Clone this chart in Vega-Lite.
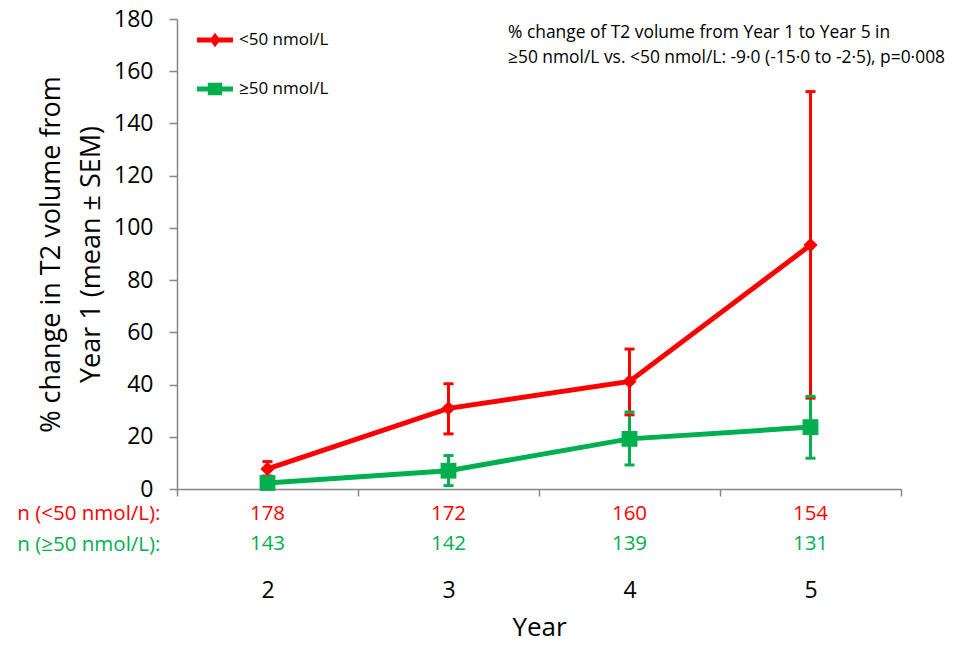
{
  "$schema": "https://vega.github.io/schema/vega-lite/v6.json",
  "background": "white",
  "padding": {"left": 16, "top": 8, "right": 5, "bottom": 5},
  "config": {"font": "Open Sans", "view": {"stroke": null}, "axis": {"grid": false}},
  "resolve": {"scale": {"color": "independent", "shape": "independent"}, "legend": {"color": "independent", "shape": "independent"}},
  "spacing": 2,
  "vconcat": [
    {
      "width": 724,
      "height": 470,
      "data": {"values": [
        {"Year": "2", "group": "<50 nmol/L", "mean": 7.7, "lo": 5.0, "hi": 10.5},
        {"Year": "3", "group": "<50 nmol/L", "mean": 30.9, "lo": 21.1, "hi": 40.3},
        {"Year": "4", "group": "<50 nmol/L", "mean": 41.2, "lo": 28.4, "hi": 53.6},
        {"Year": "5", "group": "<50 nmol/L", "mean": 93.4, "lo": 34.8, "hi": 152.2},
        {"Year": "2", "group": "≥50 nmol/L", "mean": 2.3, "lo": 1.0, "hi": 3.6},
        {"Year": "3", "group": "≥50 nmol/L", "mean": 7.0, "lo": 1.3, "hi": 12.8},
        {"Year": "4", "group": "≥50 nmol/L", "mean": 19.2, "lo": 9.2, "hi": 29.5},
        {"Year": "5", "group": "≥50 nmol/L", "mean": 23.7, "lo": 11.8, "hi": 35.5}
      ]},
      "title": {
        "text": ["% change of T2 volume from Year 1 to Year 5 in", "≥50 nmol/L vs. <50 nmol/L: -9·0 (-15·0 to -2·5), p=0·008"],
        "anchor": "start", "frame": "group", "orient": "top", "align": "left", "baseline": "top",
        "offset": -58, "dx": 331, "fontSize": 17.4, "fontWeight": "normal", "lineHeight": 25,
        "color": "black", "font": "Open Sans"
      },
      "encoding": {
        "x": {
          "field": "Year", "type": "ordinal",
          "scale": {"type": "band", "paddingInner": 0, "paddingOuter": 0},
          "axis": {"labels": false, "title": null, "tickBand": "extent", "domainColor": "#868686", "tickColor": "#868686", "domainWidth": 1.5, "tickWidth": 1.5, "tickSize": 7}
        }
      },
      "layer": [
        {
          "mark": {"type": "point", "filled": true, "opacity": 0},
          "encoding": {
            "y": {
              "field": "mean", "type": "quantitative",
              "scale": {"domain": [0, 180], "nice": false},
              "axis": {
                "values": [0, 20, 40, 60, 80, 100, 120, 140, 160, 180],
                "domainColor": "#868686", "tickColor": "#868686", "domainWidth": 1.5, "tickWidth": 1.5, "tickSize": 8,
                "labelFontSize": 23, "labelColor": "black", "labelPadding": 16,
                "title": ["% change in T2 volume from", "Year 1 (mean ± SEM)"],
                "titleFontSize": 27, "titleFontWeight": "normal", "titleColor": "black", "titleLineHeight": 40, "titlePadding": 8
              }
            },
            "color": {
              "field": "group", "type": "nominal",
              "scale": {"domain": ["<50 nmol/L", "≥50 nmol/L"], "range": ["#FF0000", "#00B050"]},
              "legend": {
                "title": null, "orient": "none", "legendX": 20, "legendY": 3,
                "symbolSize": 1296, "symbolStrokeWidth": 0, "symbolOpacity": 1,
                "labelFontSize": 17, "labelColor": "black", "labelFont": "Open Sans", "labelOffset": 6,
                "rowPadding": 23, "padding": 0
              }
            },
            "shape": {
              "field": "group", "type": "nominal",
              "scale": {
                "domain": ["<50 nmol/L", "≥50 nmol/L"],
                "range": [
                  "M-1,-0.14L1,-0.14L1,0.14L-1,0.14Z M0,-0.4L0.3,0L0,0.4L-0.3,0Z",
                  "M-1,-0.14L1,-0.14L1,0.14L-1,0.14Z M-0.4,-0.35L0.4,-0.35L0.4,0.35L-0.4,0.35Z"
                ]
              },
              "legend": {
                "title": null, "orient": "none", "legendX": 20, "legendY": 3,
                "symbolSize": 1296, "symbolStrokeWidth": 0, "symbolOpacity": 1,
                "labelFontSize": 17, "labelColor": "black", "labelFont": "Open Sans", "labelOffset": 6,
                "rowPadding": 23, "padding": 0
              }
            }
          }
        },
        {
          "mark": {"type": "line", "strokeWidth": 5},
          "encoding": {
            "y": {"field": "mean", "type": "quantitative"},
            "stroke": {"field": "group", "type": "nominal", "scale": {"domain": ["<50 nmol/L", "≥50 nmol/L"], "range": ["#FF0000", "#00B050"]}, "legend": null}
          }
        },
        {
          "mark": {"type": "rule", "strokeWidth": 3},
          "encoding": {
            "y": {"field": "lo", "type": "quantitative"},
            "y2": {"field": "hi"},
            "stroke": {"field": "group", "type": "nominal", "legend": null}
          }
        },
        {
          "mark": {"type": "tick", "orient": "horizontal", "size": 10, "thickness": 3, "opacity": 1},
          "encoding": {
            "y": {"field": "lo", "type": "quantitative"},
            "fill": {"field": "group", "type": "nominal", "scale": {"domain": ["<50 nmol/L", "≥50 nmol/L"], "range": ["#FF0000", "#00B050"]}, "legend": null}
          }
        },
        {
          "mark": {"type": "tick", "orient": "horizontal", "size": 10, "thickness": 3, "opacity": 1},
          "encoding": {
            "y": {"field": "hi", "type": "quantitative"},
            "fill": {"field": "group", "type": "nominal", "legend": null}
          }
        },
        {
          "transform": [{"filter": {"field": "group", "equal": "<50 nmol/L"}}],
          "mark": {"type": "point", "filled": true, "opacity": 1, "strokeWidth": 0, "shape": "diamond", "size": 200, "color": "#FF0000"},
          "encoding": {
            "y": {"field": "mean", "type": "quantitative"}
          }
        },
        {
          "transform": [{"filter": {"field": "group", "equal": "≥50 nmol/L"}}],
          "mark": {"type": "point", "filled": true, "opacity": 1, "strokeWidth": 0, "shape": "square", "size": 250, "color": "#00B050"},
          "encoding": {
            "y": {"field": "mean", "type": "quantitative"}
          }
        }
      ]
    },
    {
      "width": 724,
      "height": 50,
      "data": {"values": [
        {"Year": "2", "label": "n (<50 nmol/L):", "n": 178},
        {"Year": "3", "label": "n (<50 nmol/L):", "n": 172},
        {"Year": "4", "label": "n (<50 nmol/L):", "n": 160},
        {"Year": "5", "label": "n (<50 nmol/L):", "n": 154},
        {"Year": "2", "label": "n (≥50 nmol/L):", "n": 143},
        {"Year": "3", "label": "n (≥50 nmol/L):", "n": 142},
        {"Year": "4", "label": "n (≥50 nmol/L):", "n": 139},
        {"Year": "5", "label": "n (≥50 nmol/L):", "n": 131}
      ]},
      "mark": {"type": "text", "fontSize": 20.5, "font": "Open Sans"},
      "encoding": {
        "x": {
          "field": "Year", "type": "ordinal",
          "scale": {"type": "point", "padding": 0.5},
          "axis": {
            "domain": false, "ticks": false, "tickSize": 0, "labelAngle": 0,
            "labelFontSize": 23, "labelColor": "black", "labelPadding": 25,
            "title": "Year", "titleFontSize": 26, "titleFontWeight": "normal", "titleColor": "black", "titlePadding": 12
          }
        },
        "y": {
          "field": "label", "type": "nominal",
          "sort": ["n (<50 nmol/L):", "n (≥50 nmol/L):"],
          "scale": {"type": "point", "padding": 0.3333},
          "axis": {
            "title": null, "domain": false, "ticks": false, "tickSize": 0,
            "labelFontSize": 20.5, "labelPadding": 17,
            "labelColor": {"condition": {"test": "datum.value === 'n (<50 nmol/L):'", "value": "#FF0000"}, "value": "#00B050"}
          }
        },
        "text": {"field": "n", "type": "quantitative"},
        "color": {
          "field": "label", "type": "nominal",
          "scale": {"domain": ["n (<50 nmol/L):", "n (≥50 nmol/L):"], "range": ["#FF0000", "#00B050"]},
          "legend": null
        }
      }
    }
  ]
}
